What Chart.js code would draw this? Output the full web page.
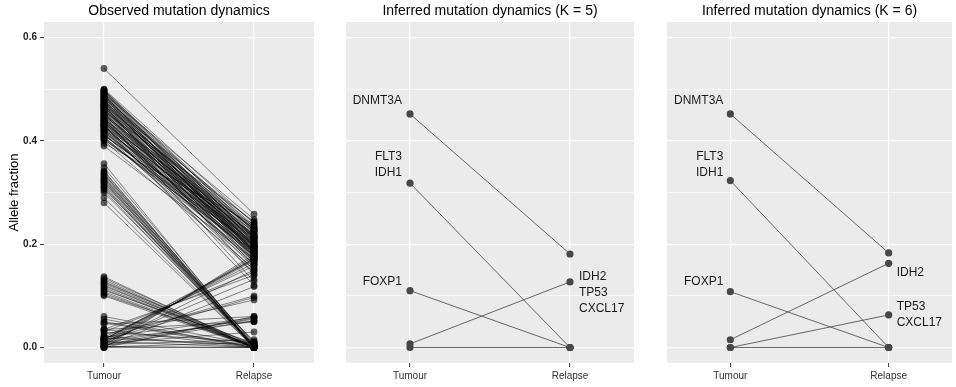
<!DOCTYPE html>
<html>
<head>
<meta charset="utf-8">
<script src="https://cdn.jsdelivr.net/npm/chart.js@4.4.1/dist/chart.umd.min.js"></script>
<style>
  html, body { margin: 0; padding: 0; background: #fff; }
  #wrap { position: relative; width: 956px; height: 387px; }
  #wrap canvas { position: absolute; top: 0; }
</style>
</head>
<body>
<div id="wrap">
  <canvas id="observed" width="318" height="387" style="left:0px"></canvas>
  <canvas id="k5" width="320" height="387" style="left:318px"></canvas>
  <canvas id="k6" width="318" height="387" style="left:638px"></canvas>
</div>
<script>
const STAGES = ["Tumour", "Relapse"];
const Y_TICKS = [0, 0.1, 0.2, 0.3, 0.4, 0.5, 0.6];

// observed allele fractions, one [tumour, relapse] pair per mutation
const clonalMuts = [
  [0.540, 0.258], [0.500, 0.240], [0.498, 0.225], [0.496, 0.232], [0.494, 0.212], [0.492, 0.205],
  [0.490, 0.248], [0.489, 0.185], [0.487, 0.222], [0.485, 0.195], [0.483, 0.236], [0.482, 0.203],
  [0.480, 0.176], [0.478, 0.214], [0.476, 0.242], [0.475, 0.192], [0.473, 0.207], [0.471, 0.226],
  [0.470, 0.183], [0.468, 0.233], [0.466, 0.165], [0.465, 0.215], [0.463, 0.201], [0.461, 0.190],
  [0.460, 0.222], [0.458, 0.180], [0.457, 0.244], [0.455, 0.172], [0.453, 0.205], [0.452, 0.212],
  [0.450, 0.196], [0.449, 0.230], [0.447, 0.160], [0.446, 0.200], [0.444, 0.186], [0.442, 0.224],
  [0.441, 0.155], [0.440, 0.210], [0.438, 0.193], [0.436, 0.175], [0.435, 0.202], [0.433, 0.232],
  [0.432, 0.182], [0.430, 0.162], [0.428, 0.214], [0.427, 0.190], [0.425, 0.198], [0.423, 0.150],
  [0.421, 0.220], [0.420, 0.180], [0.418, 0.170], [0.416, 0.204], [0.414, 0.145], [0.412, 0.188],
  [0.410, 0.212], [0.408, 0.160], [0.405, 0.183], [0.402, 0.200], [0.400, 0.152], [0.390, 0.170],
  [0.395, 0.238], [0.470, 0.140], [0.445, 0.128], [0.430, 0.120],
  [0.499, 0.210], [0.497, 0.196], [0.493, 0.228], [0.491, 0.188], [0.488, 0.204], [0.486, 0.216],
  [0.484, 0.182], [0.481, 0.226], [0.479, 0.198], [0.477, 0.186], [0.474, 0.218], [0.472, 0.196],
  [0.469, 0.208], [0.467, 0.178], [0.464, 0.228], [0.462, 0.186], [0.459, 0.200], [0.456, 0.216],
  [0.454, 0.188], [0.451, 0.176], [0.448, 0.214], [0.443, 0.196], [0.439, 0.170], [0.437, 0.218],
  [0.434, 0.190], [0.431, 0.206], [0.429, 0.176], [0.426, 0.184], [0.422, 0.194], [0.419, 0.166],
  [0.415, 0.178], [0.411, 0.196], [0.407, 0.172], [0.403, 0.186]
];
const lostHighMuts = [
  [0.356, 0.000], [0.348, 0.005], [0.342, 0.000], [0.340, 0.002], [0.337, 0.000], [0.335, 0.008],
  [0.333, 0.000], [0.330, 0.003], [0.328, 0.000], [0.326, 0.010], [0.324, 0.000], [0.322, 0.004],
  [0.320, 0.000], [0.318, 0.006], [0.315, 0.000], [0.312, 0.002], [0.310, 0.000], [0.307, 0.012],
  [0.304, 0.000], [0.300, 0.005], [0.290, 0.000], [0.280, 0.000]
];
const lostLowMuts = [
  [0.137, 0.000], [0.134, 0.003], [0.131, 0.000], [0.128, 0.000], [0.126, 0.005], [0.124, 0.000],
  [0.121, 0.000], [0.119, 0.002], [0.116, 0.000], [0.113, 0.000], [0.111, 0.008], [0.108, 0.000],
  [0.105, 0.000], [0.102, 0.004], [0.100, 0.000]
];
const gainedMuts = [
  [0.000, 0.180], [0.004, 0.176], [0.008, 0.172], [0.012, 0.168], [0.016, 0.163], [0.020, 0.158],
  [0.006, 0.150], [0.030, 0.146], [0.035, 0.140], [0.010, 0.132], [0.002, 0.118], [0.018, 0.100],
  [0.025, 0.092], [0.014, 0.097], [0.015, 0.170], [0.016, 0.172],
  [0.000, 0.060], [0.005, 0.057], [0.010, 0.055], [0.003, 0.052], [0.020, 0.058], [0.015, 0.050],
  [0.008, 0.030], [0.045, 0.060], [0.035, 0.050]
];
const lowMuts = [
  [0.060, 0.005], [0.055, 0.000], [0.050, 0.002], [0.048, 0.000], [0.035, 0.000], [0.030, 0.010],
  [0.022, 0.000], [0.018, 0.005], [0.012, 0.000], [0.006, 0.015], [0.002, 0.000], [0.000, 0.000],
  [0.001, 0.010]
];

// inferred clusters, K = 5
const k5Tumour = [0.452, 0.318, 0.110, 0.007, 0.000];
const k5Relapse = [0.181, 0.000, 0.000, 0.127, 0.000];
const k5Genes = [["DNMT3A"], ["FLT3", "IDH1"], ["FOXP1"], ["IDH2", "TP53", "CXCL17"], []];

// inferred clusters, K = 6
const k6Tumour = [0.452, 0.323, 0.108, 0.015, 0.000, 0.000];
const k6Relapse = [0.183, 0.000, 0.000, 0.163, 0.063, 0.000];
const k6Genes = [["DNMT3A"], ["FLT3", "IDH1"], ["FOXP1"], ["IDH2"], ["TP53", "CXCL17"], []];

const FONT = "'Liberation Sans', Arial, Helvetica, sans-serif";
Chart.defaults.font.family = FONT;

const panelBg = {
  id: "panelBg",
  beforeDraw(chart) {
    const { ctx, chartArea: a } = chart;
    ctx.save();
    ctx.fillStyle = "#ebebeb";
    ctx.fillRect(a.left, a.top, a.right - a.left, a.bottom - a.top);
    ctx.restore();
  }
};

function panelTitle(text) {
  return {
    id: "panelTitle",
    afterDraw(chart) {
      const { ctx, chartArea: a } = chart;
      ctx.save();
      ctx.font = "14px " + FONT;
      ctx.fillStyle = "#000";
      ctx.textAlign = "center";
      ctx.textBaseline = "middle";
      ctx.fillText(text, (a.left + a.right) / 2, 11);
      ctx.restore();
    }
  };
}

// gene names next to a cluster; side picks the stage, dy shifts the first line
function geneLabels(tumour, relapse, genes, place) {
  return {
    id: "geneLabels",
    afterDatasetsDraw(chart) {
      const { ctx, scales: { x, y } } = chart;
      ctx.save();
      ctx.font = "12px " + FONT;
      ctx.fillStyle = "#1a1a1a";
      ctx.textBaseline = "middle";
      genes.forEach((names, i) => {
        if (!names.length) return;
        const p = place[i];
        const left = p.side === "left";
        const px = x.getPixelForValue(left ? 1 : 2);
        const py = y.getPixelForValue(left ? tumour[i] : relapse[i]);
        ctx.textAlign = left ? "right" : "left";
        const tx = px + (left ? -p.dx : p.dx);
        names.forEach((n, j) => ctx.fillText(n, tx, py + p.dy + j * 16));
      });
      ctx.restore();
    }
  };
}

const isMajor = (v) => Math.round(v * 10) % 2 === 0;

function makeOptions(yWidth, padRight, showY) {
  return {
    responsive: false,
    animation: false,
    events: [],
    layout: { padding: { top: 22, right: padRight, left: 0, bottom: 0 } },
    plugins: { legend: { display: false }, tooltip: { enabled: false }, title: { display: false } },
    scales: {
      x: {
        type: "linear",
        min: 0.6,
        max: 2.4,
        afterBuildTicks: (s) => { s.ticks = [{ value: 1 }, { value: 2 }]; },
        afterFit: (s) => { s.height = 24; },
        border: { display: false },
        grid: { color: "#ffffff", lineWidth: 1.2, tickColor: "#333", tickLength: 4, tickWidth: 1 },
        ticks: {
          autoSkip: false,
          maxRotation: 0,
          padding: 3,
          color: "#333",
          font: { size: 10 },
          callback: (v) => STAGES[v - 1]
        }
      },
      y: {
        type: "linear",
        min: -0.03,
        max: 0.63,
        afterBuildTicks: (s) => { s.ticks = Y_TICKS.map((v) => ({ value: v })); },
        afterFit: (s) => { s.width = yWidth; },
        border: { display: false },
        title: showY
          ? { display: true, text: "Allele fraction", color: "#000", font: { size: 13 }, padding: { top: 7, bottom: 0 } }
          : { display: false },
        grid: {
          color: "#ffffff",
          lineWidth: (c) => (isMajor(c.tick.value) ? 1.2 : 0.6),
          drawTicks: showY,
          tickLength: 4,
          tickWidth: 1,
          tickColor: (c) => (isMajor(c.tick.value) ? "#333" : "rgba(0,0,0,0)")
        },
        ticks: {
          display: showY,
          autoSkip: false,
          padding: 3,
          color: "#222",
          font: { size: 10, weight: "bold" },
          callback: (v) => (isMajor(v) ? v.toFixed(1) : "")
        }
      }
    }
  };
}

function observedDatasets() {
  const all = [].concat(clonalMuts, lostHighMuts, lostLowMuts, gainedMuts, lowMuts);
  return all.map(([t, r]) => ({
    data: [{ x: 1, y: t }, { x: 2, y: r }],
    borderColor: "rgba(0,0,0,0.58)",
    borderWidth: 0.8,
    pointRadius: 3.4,
    pointBorderWidth: 0,
    pointBackgroundColor: "rgba(0,0,0,0.62)"
  }));
}

function clusterDatasets(tumour, relapse) {
  return tumour.map((t, i) => ({
    data: [{ x: 1, y: t }, { x: 2, y: relapse[i] }],
    borderColor: "#444",
    borderWidth: 0.8,
    pointRadius: 3.6,
    pointBorderWidth: 0,
    pointBackgroundColor: "#474747"
  }));
}

new Chart(document.getElementById("observed"), {
  type: "line",
  data: { datasets: observedDatasets() },
  options: makeOptions(44, 3, true),
  plugins: [panelBg, panelTitle("Observed mutation dynamics")]
});

const k5Place = [
  { side: "left", dx: 8, dy: -13 },
  { side: "left", dx: 8, dy: -27 },
  { side: "left", dx: 8, dy: -9 },
  { side: "right", dx: 9, dy: -5 },
  null
];
new Chart(document.getElementById("k5"), {
  type: "line",
  data: { datasets: clusterDatasets(k5Tumour, k5Relapse) },
  options: makeOptions(28, 2, false),
  plugins: [panelBg, panelTitle("Inferred mutation dynamics (K = 5)"),
    geneLabels(k5Tumour, k5Relapse, k5Genes, k5Place)]
});

const k6Place = [
  { side: "left", dx: 7, dy: -13 },
  { side: "left", dx: 7, dy: -24 },
  { side: "left", dx: 7, dy: -10 },
  { side: "right", dx: 8, dy: 9 },
  { side: "right", dx: 8, dy: -8 },
  null
];
new Chart(document.getElementById("k6"), {
  type: "line",
  data: { datasets: clusterDatasets(k6Tumour, k6Relapse) },
  options: makeOptions(29, 0, false),
  plugins: [panelBg, panelTitle("Inferred mutation dynamics (K = 6)"),
    geneLabels(k6Tumour, k6Relapse, k6Genes, k6Place)]
});
</script>
</body>
</html>
